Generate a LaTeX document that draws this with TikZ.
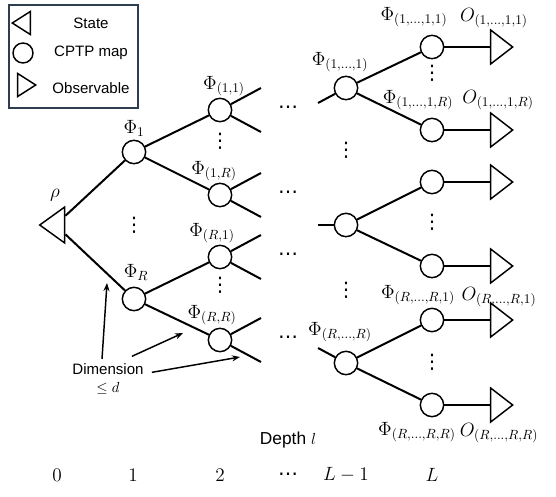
\documentclass[tikz,border=0pt]{standalone}
\usepackage{fontspec}
\setsansfont{Liberation Sans}
\newfontfamily\dotsfont{DejaVu Sans}
\usepackage{amsmath}
\usetikzlibrary{shapes.geometric, arrows.meta, positioning}
\definecolor{boxgray}{HTML}{2E3D4F}

\begin{document}
\begin{tikzpicture}[x=0.75pt, y=-0.75pt,
  cptp/.style={circle, draw, line width=1.1pt, fill=white,
               minimum size=17.5pt, inner sep=0pt},
  statetri/.style={isosceles triangle, isosceles triangle stretches,
               shape border rotate=180, draw, line width=1.1pt, fill=white,
               minimum height=18.75pt, minimum width=27pt, inner sep=0pt},
  obstri/.style={isosceles triangle, isosceles triangle stretches,
               draw, line width=1.1pt, fill=white,
               minimum height=16.5pt, minimum width=25.5pt, inner sep=0pt},
  edge/.style={line width=1.5pt},
  point/.style={-{Stealth[length=6pt, width=4.5pt]}, line width=1.1pt},
  lbl/.style={font=\fontsize{14.5}{17}\selectfont, inner sep=1pt},
  txt/.style={font=\sffamily\fontsize{11.3}{14}\selectfont, align=center, inner sep=1pt},
  vd/.style={font=\dotsfont\fontsize{15}{16}\selectfont, inner sep=0pt},
]
  \useasboundingbox (0,0) rectangle (556,496);

  % legend
  \node[draw=boxgray, line width=0.9pt, minimum width=96.75pt,
        minimum height=77.25pt, inner sep=0pt] (legend) at (73.5,56.5) {};
  \node[statetri, minimum height=13.5pt, minimum width=17.25pt] (lstate) at (24,23) {};
  \node[cptp, minimum size=15pt] (lcptp) at (23,53) {};
  \node[obstri, minimum height=13.5pt, minimum width=17.25pt] (lobs) at (24,85) {};
  \node[txt] (tstate) at (91,23) {State};
  \node[txt] (tcptp)  at (91,53) {CPTP map};
  \node[txt] (tobs)   at (91,88) {Observable};

  % tree nodes
  \node[statetri] (rho) at (55.5,225) {};
  \node[cptp] (p1)  at (134,152) {};
  \node[cptp] (pR)  at (134,299) {};
  \node[cptp] (p11) at (220,110) {};
  \node[cptp] (p1R) at (220,195) {};
  \node[cptp] (pR1) at (220,257) {};
  \node[cptp] (pRR) at (220,340) {};
  \node[cptp] (q1)  at (346,88) {};
  \node[cptp] (qm)  at (346,225) {};
  \node[cptp] (qR)  at (346,363) {};
  \node[cptp] (r11) at (432,47) {};
  \node[cptp] (r1R) at (432,130) {};
  \node[cptp] (rm1) at (432,182) {};
  \node[cptp] (rmR) at (432,266) {};
  \node[cptp] (rR1) at (432,320) {};
  \node[cptp] (rRR) at (432,405) {};
  \foreach \n/\y in {o11/47, o1R/130, om1/182, omR/266, oR1/320, oRR/405}
    \node[obstri] (\n) at (499,\y) {};

  % edges
  \draw[edge] (rho) -- (p1);
  \draw[edge] (rho) -- (pR);
  \draw[edge] (p1) -- (p11);
  \draw[edge] (p1) -- (p1R);
  \draw[edge] (pR) -- (pR1);
  \draw[edge] (pR) -- (pRR);
  \foreach \n in {p11, p1R, pR1, pRR} {
    \path (\n) ++(41,-22) coordinate (\n up);
    \path (\n) ++(41,22) coordinate (\n dn);
    \draw[edge] (\n) -- (\n up);
    \draw[edge] (\n) -- (\n dn);
  }
  \coordinate (q1in) at (318,103);
  \coordinate (qmin) at (318,225);
  \coordinate (qRin) at (318,348);
  \draw[edge] (q1in) -- (q1);
  \draw[edge] (qmin) -- (qm);
  \draw[edge] (qRin) -- (qR);
  \draw[edge] (q1) -- (r11);
  \draw[edge] (q1) -- (r1R);
  \draw[edge] (qm) -- (rm1);
  \draw[edge] (qm) -- (rmR);
  \draw[edge] (qR) -- (rR1);
  \draw[edge] (qR) -- (rRR);
  \foreach \a/\b in {r11/o11, r1R/o1R, rm1/om1, rmR/omR, rR1/oR1, rRR/oRR}
    \draw[edge] (\a) -- (\b);

  % dots
  \foreach \y [count=\i] in {110, 195, 257, 340}
    \node[vd] (hd\i) at (288,\y) {⋯};
  \foreach \x/\y [count=\i] in {134/225, 220/141, 220/285, 346/150, 346/290,
                                432/73, 432/222, 432/362}
    \node[vd] (vd\i) at (\x,\y) {⋮};

  % labels
  \node[lbl] (lrho) at (55,195)  {$\rho$};
  \node[lbl] (lp1)  at (134,128) {$\Phi_1$};
  \node[lbl] (lpR)  at (136,272) {$\Phi_R$};
  \node[lbl] (lp11) at (224,86)  {$\Phi_{(1,1)}$};
  \node[lbl] (lp1R) at (214,171) {$\Phi_{(1,R)}$};
  \node[lbl] (lpR1) at (212,233) {$\Phi_{(R,1)}$};
  \node[lbl] (lpRR) at (212,315) {$\Phi_{(R,R)}$};
  \node[lbl] (lq1)  at (340,62)  {$\Phi_{(1,\ldots,1)}$};
  \node[lbl] (lqR)  at (340,332) {$\Phi_{(R,\ldots,R)}$};
  \node[lbl] (lr11) at (414,17)  {$\Phi_{(1,\ldots,1,1)}$};
  \node[lbl] (lr1R) at (418,100) {$\Phi_{(1,\ldots,1,R)}$};
  \node[lbl] (lrR1) at (418,295) {$\Phi_{(R,\ldots,R,1)}$};
  \node[lbl] (lrRR) at (417,432) {$\Phi_{(R,\ldots,R,R)}$};
  \node[lbl] (lo11) at (494,18)  {$O_{(1,\ldots,1,1)}$};
  \node[lbl] (lo1R) at (498,100) {$O_{(1,\ldots,1,R)}$};
  \node[lbl] (loR1) at (499,297) {$O_{(R,\ldots,R,1)}$};
  \node[lbl] (loRR) at (499,433) {$O_{(R,\ldots,R,R)}$};

  % dimension note
  \node[txt] (dim) at (108,379) {Dimension\\$\le d$};
  \coordinate (dimA) at (107,283);
  \coordinate (dimB) at (183,333);
  \coordinate (dimC) at (240,357);
  \draw[point] ([xshift=-4.5pt,yshift=2pt]dim.north) -- (dimA);
  \draw[point] ([xshift=18pt,yshift=4pt]dim.north) -- (dimB);
  \draw[point] ([xshift=5pt,yshift=5pt]dim.east) -- (dimC);

  % depth axis
  \node[txt, font=\sffamily\fontsize{13}{15}\selectfont] (depth) at (288,440) {Depth $l$};
  \foreach \x/\t [count=\i] in {57/0, 133/1, 220/2, 346/L-1, 432/L}
    \node[lbl] (d\i) at (\x,475) {$\t$};
  \node[vd] (ddots) at (288,477) {⋯};
\end{tikzpicture}
\end{document}
